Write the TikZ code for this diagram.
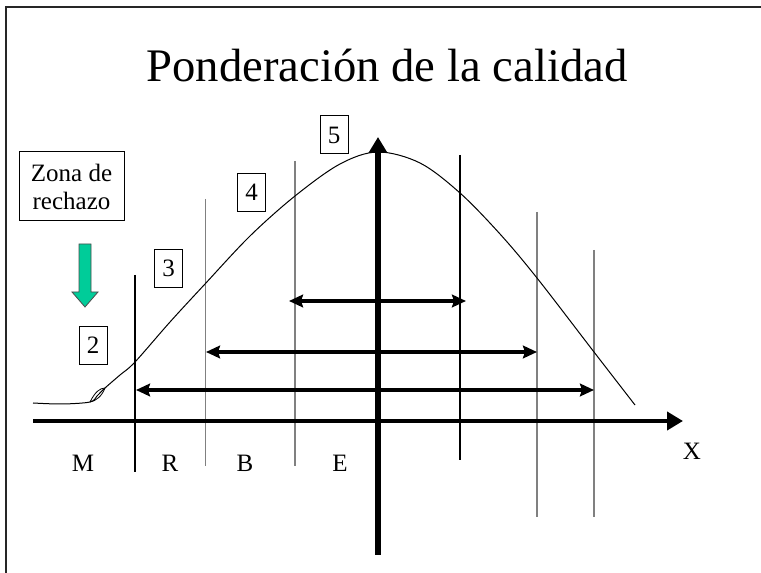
\documentclass[tikz,border=0pt]{standalone}
\usepackage{fontspec}
\setmainfont{Liberation Serif}
\usetikzlibrary{arrows.meta}
\definecolor{zgreen}{RGB}{0,204,153}
\definecolor{lgray}{RGB}{128,128,128}
\begin{document}
\begin{tikzpicture}[x=0.75pt,y=-0.75pt,
  numbox/.style={draw,line width=0.75pt,inner sep=0pt,minimum width=21pt,minimum height=28.5pt,font=\fontsize{18.75}{21}\selectfont},
  lbl/.style={anchor=base,inner sep=0pt,font=\fontsize{18.75}{21}\selectfont},
  blackline/.style={line width=0.8pt,black},
  grayline/.style={line width=0.95pt,lgray},
  dbl/.style={line width=3.2pt,{Stealth[length=10.5pt,width=9.5pt,inset=1.5pt]}-{Stealth[length=10.5pt,width=9.5pt,inset=1.5pt]}},
  axisarrow/.style={-{Triangle[length=12pt,width=13.5pt]}}
]
\fill[white] (0,0) rectangle (761,573);
\useasboundingbox (0,0) rectangle (761,573);
% frame
\draw[line width=1.1pt,black!85] (6,573) -- (6,7) -- (761,7);
% title
\node[anchor=base,inner sep=0pt,font=\fontsize{35}{40}\selectfont] (title) at (387,82) {Ponderación de la calidad};
% vertical limit lines
\draw[blackline] (135,275) -- (135,472);
\draw[grayline] (205.5,199) -- (205.5,466);
\draw[grayline] (295,161) -- (295,466);
\draw[blackline] (460,155) -- (460,460);
\draw[grayline] (537,212) -- (537,517);
\draw[grayline] (594,250) -- (594,517);
% bell curve
\draw[line width=0.75pt] plot[smooth,tension=0.55] coordinates {(33,403) (62,404) (90,402) (97,396) (105,388) (120,375) (135,362) (170,322) (205,284) (250,236) (295,196) (340,164) (378,152) (420,163) (460,193) (500,234) (537,278) (594,352) (635,405)};
\draw[line width=0.6pt] (90,402) .. controls (95,392) and (100,388) .. (105,388) .. controls (102,396) and (96,401) .. (90,402);
% axes
\coordinate (xs) at (33,421);
\coordinate (xe) at (683,421);
\coordinate (ys) at (378,555);
\coordinate (ye) at (378,137);
\draw[line width=3.4pt,axisarrow] (xs) -- (xe);
\draw[line width=3.9pt,axisarrow] (ys) -- (ye);
% double arrows
\coordinate (a1l) at (289,301); \coordinate (a1r) at (466,301);
\coordinate (a2l) at (206,352); \coordinate (a2r) at (537,352);
\coordinate (a3l) at (136,390); \coordinate (a3r) at (594,390);
\draw[dbl] (a1l) -- (a1r);
\draw[dbl] (a2l) -- (a2r);
\draw[dbl] (a3l) -- (a3r);
% rejection zone
\node[draw,line width=0.75pt,align=center,inner sep=0pt,minimum width=78.75pt,minimum height=51.75pt,font=\fontsize{18.75}{21}\selectfont] (zona) at (71.5,186.5) {Zona de\\rechazo};
\draw[fill=zgreen,draw=black!70,line width=0.6pt] (79,244) -- (91,244) -- (91,292) -- (98,292) -- (85,307) -- (72,292) -- (79,292) -- cycle;
% number boxes
\node[numbox] (n2) at (93,345.5) {2};
\node[numbox] (n3) at (168.5,268.5) {3};
\node[numbox] (n4) at (251.5,192.5) {4};
\node[numbox] (n5) at (334,135) {5};
% zone labels
\node[lbl] (lM) at (83,472) {M};
\node[lbl] (lR) at (170,472) {R};
\node[lbl] (lB) at (245,472) {B};
\node[lbl] (lE) at (340,472) {E};
\node[lbl] (lX) at (692,460) {X};
\end{tikzpicture}
\end{document}
